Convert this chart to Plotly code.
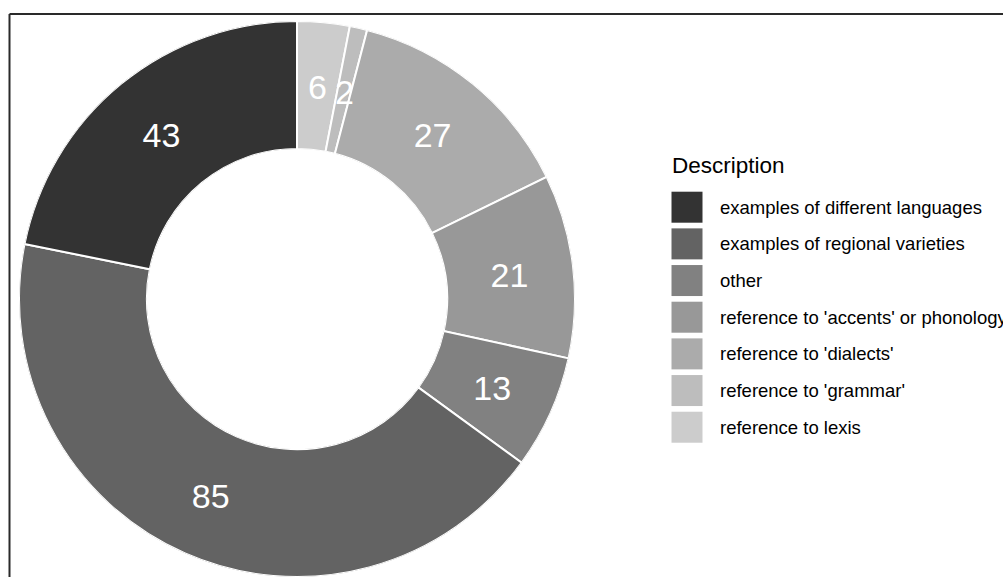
import numpy as np
import plotly.graph_objects as go

# Categories in legend order, with their counts and grey fills
categories = [
    "examples of different languages",
    "examples of regional varieties",
    "other",
    "reference to 'accents' or phonology",
    "reference to 'dialects'",
    "reference to 'grammar'",
    "reference to lexis",
]
counts = [43, 85, 13, 21, 27, 2, 6]
fills = ["#333333", "#636363", "#818181", "#989898", "#ABABAB", "#BDBDBD", "#CCCCCC"]

legend_title = "Description"
FONT = "Liberation Sans, Arial, Helvetica, sans-serif"
W, H = 1003, 577

# Slices run clockwise from 12 o'clock, last category first
order = list(range(len(categories)))[::-1]
vals = np.array([counts[i] for i in order], dtype=float)
widths = vals / vals.sum() * 360.0
mids = np.cumsum(widths) - widths / 2.0

# Donut geometry: centre (297, 299), outer radius 278 px, hole fraction
cx, cy, R, HOLE = 297, 299, 278, 0.54
# Label layer: same centre line, nudged down so glyphs sit mid-ring
ly = cy + 5
R2 = H - ly
label_r = R * (1 + HOLE) / 2.0

fig = go.Figure()

for k, i in enumerate(order):
    fig.add_trace(go.Barpolar(
        r=[1.0],
        theta=[mids[k]],
        width=[widths[k]],
        marker=dict(color=fills[i], line=dict(color="white", width=2)),
        name=categories[i],
        showlegend=False,
        hoverinfo="skip",
        subplot="polar",
    ))

fig.add_trace(go.Scatterpolar(
    r=[label_r] * len(order),
    theta=list(mids),
    mode="text",
    text=[str(counts[i]) for i in order],
    textposition="middle center",
    textfont=dict(family=FONT, size=34, color="white"),
    showlegend=False,
    hoverinfo="skip",
    subplot="polar2",
))

angular = dict(rotation=90, direction="clockwise", showline=False,
               showgrid=False, showticklabels=False, ticks="")
fig.update_layout(
    width=W, height=H,
    margin=dict(l=0, r=0, t=0, b=0),
    paper_bgcolor="white",
    plot_bgcolor="white",
    polar=dict(
        domain=dict(x=[(cx - R) / W, (cx + R) / W], y=[1 - (cy + R) / H, 1 - (cy - R) / H]),
        hole=HOLE,
        bgcolor="white",
        bargap=0,
        radialaxis=dict(visible=False, range=[0, 1]),
        angularaxis=angular,
    ),
    polar2=dict(
        domain=dict(x=[(cx - R2) / W, (cx + R2) / W], y=[0, 1 - (ly - R2) / H]),
        bgcolor="rgba(0,0,0,0)",
        radialaxis=dict(visible=False, range=[0, R2]),
        angularaxis=angular,
    ),
)

# Panel frame along the top and left edges
fx, fy = 9.5 / W, 1 - 14 / H
frame_col = "#2a2a2a"
fig.add_shape(type="line", xref="paper", yref="paper", x0=fx, x1=1.0, y0=fy, y1=fy,
              line=dict(color=frame_col, width=2))
fig.add_shape(type="line", xref="paper", yref="paper", x0=fx, x1=fx, y0=fy, y1=0,
              line=dict(color=frame_col, width=2))

# Legend: title, grey keys and labels
key_x0, key_size, key_step, key_top = 671.5, 31, 36.67, 191.7
text_x = 718
fig.add_annotation(x=670 / W, y=1 - 165 / H, xref="paper", yref="paper",
                   text=legend_title, showarrow=False, xanchor="left", yanchor="middle",
                   font=dict(family=FONT, size=22.5, color="black"))
for j, (lab, col) in enumerate(zip(categories, fills)):
    top = key_top + j * key_step
    fig.add_shape(type="rect", xref="paper", yref="paper",
                  x0=key_x0 / W, x1=(key_x0 + key_size) / W,
                  y0=1 - top / H, y1=1 - (top + key_size) / H,
                  fillcolor=col, line=dict(width=0))
    fig.add_annotation(x=text_x / W, y=1 - (top + key_size / 2) / H, xref="paper", yref="paper",
                       text=lab, showarrow=False, xanchor="left", yanchor="middle",
                       font=dict(family=FONT, size=18.5, color="black"))

fig.write_html("out.html")
